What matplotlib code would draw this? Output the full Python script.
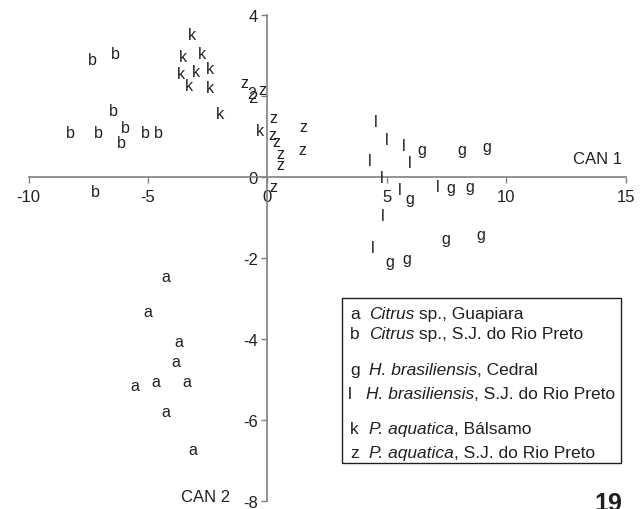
import matplotlib.pyplot as plt
from matplotlib.patches import Rectangle

plt.rcParams['font.family'] = ['Liberation Sans', 'DejaVu Sans']
plt.rcParams['axes.unicode_minus'] = False

# canonical scores, one group per letter
a_x = [-4.24, -5.00, -3.71, -3.82, -5.56, -4.69, -3.39, -4.27, -3.14]
a_y = [-2.45, -3.33, -4.06, -4.55, -5.15, -5.04, -5.05, -5.80, -6.73]

b_x = [-7.33, -6.37, -6.45, -8.25, -7.08, -5.95, -6.11, -5.11, -4.56, -7.20]
b_y = [2.91, 3.06, 1.65, 1.09, 1.11, 1.23, 0.86, 1.11, 1.11, -0.37]

g_x = [6.48, 8.15, 9.20, 5.95, 7.69, 8.47, 7.45, 8.95, 5.12, 5.85]
g_y = [0.69, 0.69, 0.76, -0.53, -0.27, -0.23, -1.53, -1.43, -2.09, -2.02]

l_x = [4.55, 4.98, 5.71, 4.28, 5.96, 4.80, 5.52, 7.11, 4.83, 4.41]
l_y = [1.38, 0.92, 0.77, 0.40, 0.36, -0.01, -0.31, -0.23, -0.96, -1.74]

k_x = [-3.18, -3.53, -2.76, -3.64, -2.99, -2.39, -3.27, -2.43, -2.01, -0.31]
k_y = [3.53, 2.98, 3.04, 2.56, 2.61, 2.67, 2.25, 2.21, 1.56, 1.14]

z_x = [-0.98, -0.22, 0.26, 0.20, 0.35, 0.52, 0.52, 1.49, 1.45, 0.24]
z_y = [2.34, 2.16, 1.47, 1.06, 0.87, 0.57, 0.30, 1.25, 0.69, -0.23]
odd_label = "2"
odd_x, odd_y = -0.68, 2.05

groups = [
    ("a", a_x, a_y),
    ("b", b_x, b_y),
    ("g", g_x, g_y),
    ("l", l_x, l_y),
    ("k", k_x, k_y),
    ("z", z_x, z_y),
]

legend_letters = ["a", "b", "g", "l", "k", "z"]
legend_species = ["Citrus", "Citrus", "H. brasiliensis", "H. brasiliensis",
                  "P. aquatica", "P. aquatica"]
legend_places = [" sp., Guapiara", " sp., S.J. do Rio Preto", ", Cedral",
                 ", S.J. do Rio Preto", ", Bálsamo", ", S.J. do Rio Preto"]
legend_rows = [312.7, 332.7, 369.3, 393.3, 428.3, 451.7]

ink = "#231f20"
axis_grey = "#808080"

fig = plt.figure(figsize=(6.41, 5.10), dpi=100)
ax = fig.add_axes([28.7 / 641, 1 - 502 / 510, 597 / 641, 486 / 510])
ax.set_xlim(-10, 15)
ax.set_ylim(-8, 4)

for sp in ["top", "right"]:
    ax.spines[sp].set_visible(False)
for sp in ["left", "bottom"]:
    ax.spines[sp].set_position("zero")
    ax.spines[sp].set_color(axis_grey)
    ax.spines[sp].set_linewidth(1.2)

ax.set_xticks([-10, -5, 0, 5, 10, 15])
ax.set_yticks([-8, -6, -4, -2, 0, 2, 4])
ax.tick_params(direction="out", length=4, width=1, color=axis_grey,
               labelsize=12, labelcolor=ink)
ax.tick_params(axis="x", pad=5)
ax.tick_params(axis="y", pad=3)
ax.patch.set_visible(False)

for letter, xs, ys in groups:
    for x, y in zip(xs, ys):
        ax.text(x, y, letter, ha="center", va="center", fontsize=11.5, color=ink)
ax.text(odd_x, odd_y, odd_label, ha="center", va="center", fontsize=11.5, color=ink)

ax.text(14.83, 0.45, "CAN 1", ha="right", va="center", fontsize=12, color=ink)
ax.text(-1.57, -7.9, "CAN 2", ha="right", va="center", fontsize=12, color=ink)

# legend box in pixel coordinates of the figure
W, H = 641, 510
fig.patches.append(Rectangle((342.3 / W, 1 - 464 / H), (621 - 342.3) / W, (464 - 299.3) / H,
                             transform=fig.transFigure, fill=False,
                             edgecolor=ink, linewidth=1.0))
fig.canvas.draw()
renderer = fig.canvas.get_renderer()
for letter, species, place, row in zip(legend_letters, legend_species,
                                       legend_places, legend_rows):
    lx = 348 if letter == "l" else 350
    tx = 366 if letter == "l" else 369
    base = 1 - (row + 6) / H
    fig.text(lx / W, base, letter, ha="left", va="baseline", fontsize=12.5, color=ink)
    it = fig.text(tx / W, base, species, ha="left", va="baseline", fontsize=12.5,
                  style="italic", color=ink)
    x1 = it.get_window_extent(renderer).x1
    fig.text(x1 / W, base, place, ha="left", va="baseline", fontsize=12.5, color=ink)

fig.text(622 / W, 1 - 511 / H, "19", ha="right", va="baseline", fontsize=18,
         fontweight="bold", color=ink)

fig.savefig("out.png", dpi=100)
